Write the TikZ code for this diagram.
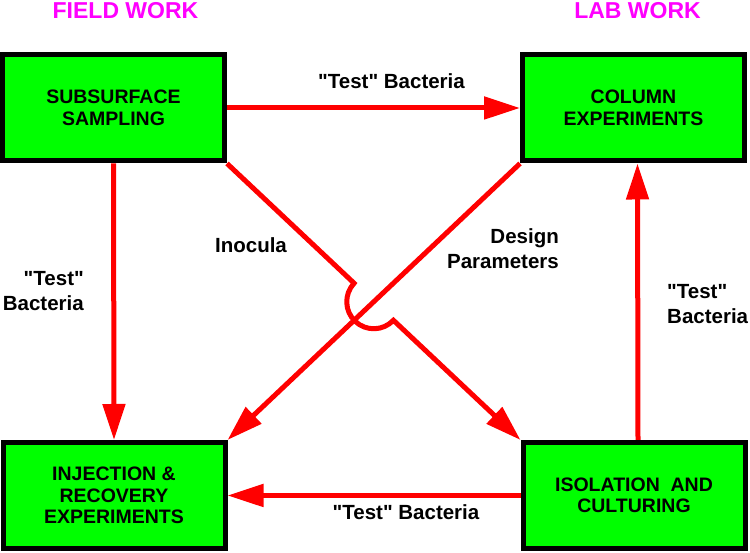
\documentclass[tikz,border=0pt]{standalone}
\usepackage{fontspec}
\setmainfont{Liberation Sans}
\usetikzlibrary{arrows.meta,calc,positioning}
\definecolor{labgreen}{RGB}{0,255,0}
\definecolor{flowred}{RGB}{255,0,0}
\definecolor{headmag}{RGB}{255,0,255}
\newcommand{\tq}{\textquotedbl}

\begin{document}
\begin{tikzpicture}[x=1pt,y=1pt,>={Triangle[length=36pt,width=22pt]},
    every node/.style={align=center,font=\fontsize{19.5}{21.5}\selectfont\bfseries},
    box/.style={draw,line width=5pt,fill=labgreen,minimum width=222pt,minimum height=106pt,inner sep=0pt},
    flow/.style={->,draw=flowred,line width=5pt},
    lbl/.style={font=\fontsize{20.5}{25}\selectfont\bfseries,inner sep=0pt},
    head/.style={text=headmag,font=\fontsize{23}{25}\selectfont\bfseries,anchor=base}]
    \useasboundingbox (0,0) rectangle (750,553);
    \node[head] (fieldhd) at (125.5,534) {FIELD WORK};
    \node[head] (labhd) at (637.5,534) {LAB WORK};
    \node[box] (sub) at (113.5,445) {SUBSURFACE\\SAMPLING};
    \node[box] (col) at (633.5,445) {COLUMN\\EXPERIMENTS};
    \node[box] (inj) at (114,57.5) {INJECTION \&\\RECOVERY\\EXPERIMENTS};
    \node[box] (iso) at (634,57.5) {ISOLATION~~AND\\CULTURING};
    \draw[flow] (sub.east) -- (col.west);
    \draw[flow] (sub.south) -- (inj.north);
    \draw[flow] ([xshift=4pt]iso.north) -- ([xshift=4pt]col.south);
    \draw[flow] (iso.west) -- (inj.east);
    \draw[flow] (col.south west) -- (inj.north east);
    % inocula line hops over the other diagonal
    \coordinate (cross) at (intersection of sub.south east--iso.north west and col.south west--inj.north east);
    \draw[flow] (sub.south east) -- ($(cross)!27pt!(sub.south east)$)
      arc[start angle=136.7,end angle=316.7,radius=27pt] -- (iso.north west);
    \node[lbl] (toplbl) at (391.5,472) {\tq Test\tq{} Bacteria};
    \node[lbl,align=right,anchor=east] (leftlbl) at (84,262) {\tq Test\tq\\Bacteria};
    \node[lbl,align=left,anchor=west] (rightlbl) at (667,249) {\tq Test\tq\\Bacteria};
    \node[lbl] (botlbl) at (406,41) {\tq Test\tq{} Bacteria};
    \node[lbl] (inolbl) at (251,308) {Inocula};
    \node[lbl,align=right,anchor=east] (deslbl) at (559,304) {Design\\Parameters};
  \end{tikzpicture}
\end{document}
